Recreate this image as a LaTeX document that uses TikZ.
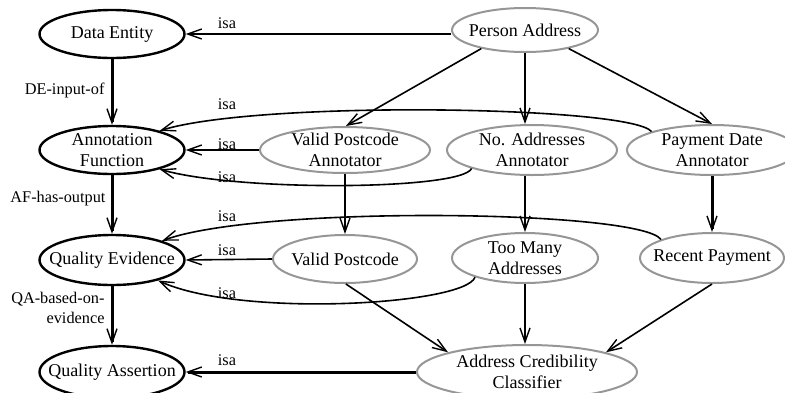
\documentclass[tikz,border=0pt]{standalone}
\usepackage{fontspec}
\setmainfont{Liberation Serif}
\usetikzlibrary{arrows.meta,shapes.geometric}
\definecolor{ringgray}{RGB}{150,150,150}
\begin{document}
\begin{tikzpicture}[x=1pt,y=-1pt,
  oval/.style={ellipse, inner xsep=-60pt, inner ysep=-25pt, align=center,
    font=\fontsize{18}{21}\selectfont},
  concept/.style={oval, draw=black, line width=2.4pt},
  instance/.style={oval, draw=ringgray, line width=2pt},
  edge/.style={line width=1.6pt, -{Straight Barb[length=14pt,width=10pt,line width=1.4pt]}},
  strong/.style={edge, line width=3pt},
  lbl/.style={font=\fontsize{16.3}{20}\selectfont, inner sep=0pt, anchor=base}]
\useasboundingbox (0,0) rectangle (785,392);
\clip (0,0) rectangle (785,392);

% upper ontology (black)
\node[concept, minimum width=145pt, minimum height=48pt] (de) at (112,34) {Data Entity};
\node[concept, minimum width=145pt, minimum height=48pt] (af) at (112,150) {Annotation\\Function};
\node[concept, minimum width=145pt, minimum height=50pt] (qe) at (112,260) {Quality Evidence};
\node[concept, minimum width=145pt, minimum height=52pt] (qa) at (112,372) {Quality Assertion};

% domain instances (grey)
\node[instance, minimum width=146pt, minimum height=44pt] (pa) at (525,30) {Person Address};
\node[instance, minimum width=170pt, minimum height=46pt] (vpa) at (345,150) {Valid Postcode\\Annotator};
\node[instance, minimum width=170pt, minimum height=50pt] (naa) at (532,150) {No. Addresses\\Annotator};
\node[instance, minimum width=170pt, minimum height=50pt] (pda) at (712,150) {Payment Date\\Annotator};
\node[instance, minimum width=144pt, minimum height=48pt] (vp) at (345,259) {Valid Postcode};
\node[instance, minimum width=146pt, minimum height=50pt] (tma) at (525,258) {Too Many\\Addresses};
\node[instance, minimum width=144pt, minimum height=50pt] (rp) at (712,258) {Recent Payment};
\node[instance, minimum width=220pt, minimum height=54pt] (acc) at (527,372) {Address Credibility\\Classifier};

% backbone of the upper ontology
\draw[strong] (de.south) -- (af.north) node[lbl, anchor=base east] at (106,94) {DE-input-of};
\draw[strong] (af.south) -- (qe.north) node[lbl, anchor=base east] at (107,202) {AF-has-output};
\draw[strong] (qe.south) -- (qa.north) node[lbl, anchor=east, align=right] at (106,308) {QA-based-on-\\evidence};

% isa links
\draw[edge] (pa.west |- de.east) -- (de.east) node[lbl] at (227,28) {isa};
\draw[edge] (pda.163) .. controls (630,106) and (260,100) .. (af.22) node[lbl] at (227,109) {isa};
\draw[edge] (vpa.west) -- (af.east) node[lbl] at (227,149) {isa};
\draw[edge] (naa.197) .. controls (462,190) and (240,192) .. (af.338) node[lbl] at (227,182) {isa};
\draw[edge] (rp.160) .. controls (640,210) and (260,205) .. (qe.21) node[lbl] at (227,221) {isa};
\draw[edge] (vp.west) -- (qe.east) node[lbl] at (227,255) {isa};
\draw[edge] (tma.201) .. controls (465,305) and (240,318) .. (qe.336) node[lbl] at (227,298) {isa};
\draw[strong] (acc.west) -- (qa.east) node[lbl] at (227,365) {isa};

% derivation of the annotators and evidence
\draw[edge] (pa.203) -- (vpa.88);
\draw[edge] (pa.south) -- (pa.south |- naa.north);
\draw[edge] (pa.337) -- (pda.north);
\draw[edge] (vpa.south) -- (vp.north);
\draw[edge] (tma.north |- naa.south) -- (tma.north);
\draw[strong] (pda.south) -- (rp.north);
\draw[edge] (vp.272) -- (acc.166);
\draw[edge] (tma.south) -- (tma.south |- acc.north);
\draw[edge] (rp.south) -- (acc.14);
\end{tikzpicture}
\end{document}
